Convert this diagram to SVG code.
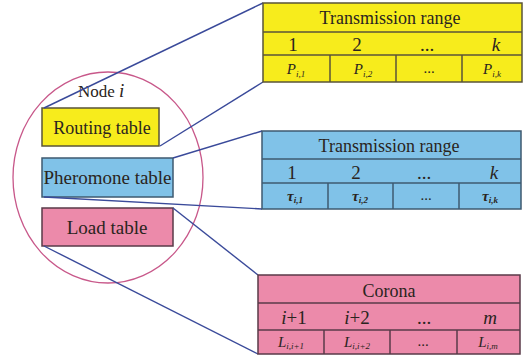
<svg xmlns="http://www.w3.org/2000/svg" width="523" height="356" viewBox="0 0 523 356">
<style>
text{font-family:'Liberation Serif','DejaVu Serif',serif;fill:#2a2420}
.t{font-size:18px;text-anchor:middle}
.n{font-size:19px;text-anchor:middle}
.it{font-style:italic}
.c{font-size:15px;text-anchor:middle;font-style:italic}
.s{font-size:9px}
.y{fill:#f7ec1c;stroke:#5a5438;stroke-width:1.5}
.b{fill:#80c2e8;stroke:#3e5a70;stroke-width:1.5}
.p{fill:#ec8aaa;stroke:#5a3a48;stroke-width:1.5}
.ln{stroke:#3a4a9a;stroke-width:1.4;fill:none}
</style>
<rect width="523" height="356" fill="#fff"/>
<g id="node-i">
<ellipse cx="108" cy="177.5" rx="95" ry="105.5" fill="none" stroke="#c8588a" stroke-width="1.3"/>
<text x="78" y="97" font-family="Liberation Serif, DejaVu Serif, serif" style="font-size:17px">Node <tspan class="it" style="font-size:19px">i</tspan></text>
</g>
<g id="routing-table">
<rect class="y" x="42" y="108" width="117" height="38"/>
<text class="t" x="102" y="134" font-family="Liberation Serif, DejaVu Serif, serif">Routing table</text>
</g>
<g id="pheromone-table">
<rect class="b" x="42" y="158" width="131" height="39"/>
<text class="t" x="107.5" y="184" font-family="Liberation Serif, DejaVu Serif, serif" textLength="128" lengthAdjust="spacingAndGlyphs">Pheromone table</text>
</g>
<g id="load-table">
<rect class="p" x="42" y="208" width="131" height="38"/>
<text class="t" x="107" y="234" font-family="Liberation Serif, DejaVu Serif, serif" style="font-size:19px">Load table</text>
</g>
<g id="connectors">
<line class="ln" x1="44" y1="108" x2="263" y2="3"/>
<line class="ln" x1="160" y1="146" x2="263" y2="82"/>
<line class="ln" x1="173" y1="158" x2="262" y2="131"/>
<line class="ln" x1="44" y1="197" x2="262" y2="209"/>
<line class="ln" x1="173" y1="208" x2="258" y2="275"/>
<line class="ln" x1="44" y1="246" x2="258" y2="354"/>
</g>
<g id="yellow-table" font-family="Liberation Serif, DejaVu Serif, serif">
<rect class="y" x="263" y="3" width="259" height="79"/>
<line class="y" x1="263" y1="32" x2="522" y2="32"/>
<line class="y" x1="263" y1="55" x2="522" y2="55"/>
<line class="y" x1="330" y1="55" x2="330" y2="82"/>
<line class="y" x1="396" y1="55" x2="396" y2="82"/>
<line class="y" x1="462" y1="55" x2="462" y2="82"/>
<text class="t" x="390" y="24">Transmission range</text>
<text class="n" x="293" y="51">1</text>
<text class="n" x="357" y="51">2</text>
<text class="n" x="427" y="51">...</text>
<text class="n it" x="496" y="51">k</text>
<text class="c" x="296" y="74">P<tspan class="s" dy="3">i,1</tspan></text>
<text class="c" x="363" y="74">P<tspan class="s" dy="3">i,2</tspan></text>
<text class="c" x="429" y="73" style="font-style:normal">...</text>
<text class="c" x="492" y="74">P<tspan class="s" dy="3">i,k</tspan></text>
</g>
<g id="blue-table" font-family="Liberation Serif, DejaVu Serif, serif">
<rect class="b" x="262" y="131" width="259" height="78"/>
<line class="b" x1="262" y1="159" x2="521" y2="159"/>
<line class="b" x1="262" y1="183" x2="521" y2="183"/>
<line class="b" x1="328" y1="183" x2="328" y2="209"/>
<line class="b" x1="393" y1="183" x2="393" y2="209"/>
<line class="b" x1="459" y1="183" x2="459" y2="209"/>
<text class="t" x="389" y="152">Transmission range</text>
<text class="n" x="292" y="179">1</text>
<text class="n" x="356" y="179">2</text>
<text class="n" x="424" y="179">...</text>
<text class="n it" x="494" y="179">k</text>
<text class="c" x="295" y="201" style="font-weight:bold">τ<tspan class="s" dy="2">i,1</tspan></text>
<text class="c" x="360" y="201" style="font-weight:bold">τ<tspan class="s" dy="2">i,2</tspan></text>
<text class="c" x="426" y="200" style="font-style:normal">...</text>
<text class="c" x="490" y="201" style="font-weight:bold">τ<tspan class="s" dy="2">i,k</tspan></text>
</g>
<g id="pink-table" font-family="Liberation Serif, DejaVu Serif, serif">
<rect class="p" x="258" y="275" width="262" height="79"/>
<line class="p" x1="258" y1="303" x2="520" y2="303"/>
<line class="p" x1="258" y1="330" x2="520" y2="330"/>
<line class="p" x1="324" y1="330" x2="324" y2="354"/>
<line class="p" x1="390" y1="330" x2="390" y2="354"/>
<line class="p" x1="457" y1="330" x2="457" y2="354"/>
<text class="t" x="389" y="297">Corona</text>
<text class="n" x="294" y="324"><tspan class="it">i</tspan>+1</text>
<text class="n" x="357" y="324"><tspan class="it">i</tspan>+2</text>
<text class="n" x="424" y="324">...</text>
<text class="n it" x="490" y="324">m</text>
<text class="c" x="291" y="347">L<tspan class="s" dy="2">i,i+1</tspan></text>
<text class="c" x="357" y="347">L<tspan class="s" dy="2">i,i+2</tspan></text>
<text class="c" x="423" y="346" style="font-style:normal">...</text>
<text class="c" x="488" y="347">L<tspan class="s" dy="2">i,m</tspan></text>
</g>
</svg>
